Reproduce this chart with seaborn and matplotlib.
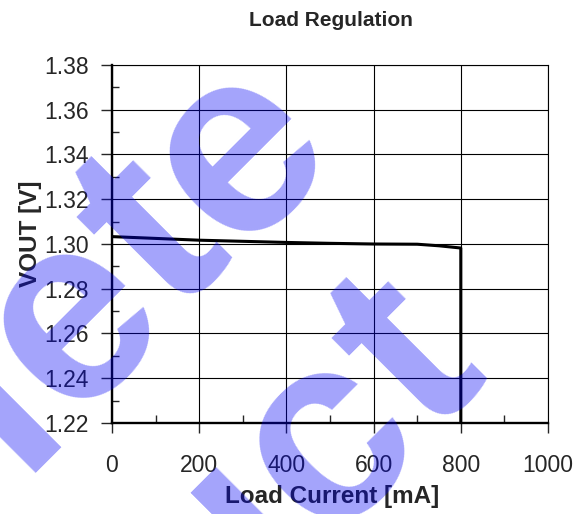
import numpy as np
import matplotlib
matplotlib.use("Agg")
import matplotlib.pyplot as plt
from matplotlib.ticker import MultipleLocator
import seaborn as sns

# data
load_ma = [0, 100, 200, 300, 400, 500, 600, 700, 750, 800, 800]
vout_v = [1.3033, 1.3025, 1.3017, 1.3012, 1.3007, 1.3003, 1.3000, 1.2999, 1.2992, 1.2982, 1.2000]

x_ticks = [0, 200, 400, 600, 800, 1000]
y_ticks = [1.22, 1.24, 1.26, 1.28, 1.30, 1.32, 1.34, 1.36, 1.38]

sns.set_style("white")
plt.rcParams['font.family'] = ['Liberation Sans', 'DejaVu Sans']

W, H = 583, 514
fig = plt.figure(figsize=(W / 100, H / 100), dpi=100)
ax = fig.add_axes([112 / W, (H - 423) / H, 436 / W, 358 / H])

sns.lineplot(x=load_ma, y=vout_v, estimator=None, sort=False,
             color='black', lw=2.2, ax=ax, zorder=5)

ax.set_xlim(0, 1000)
ax.set_ylim(1.22, 1.38)
ax.set_xticks(x_ticks)
ax.set_yticks(y_ticks)
ax.set_yticklabels([f"{v:.2f}" for v in y_ticks])
ax.xaxis.set_minor_locator(MultipleLocator(100))
ax.yaxis.set_minor_locator(MultipleLocator(0.01))
ax.grid(True, which='major', color='black', lw=0.8)
ax.set_axisbelow(True)

for side in ['left', 'bottom']:
    ax.spines[side].set_linewidth(1.7)
    ax.spines[side].set_color('black')
for side in ['top', 'right']:
    ax.spines[side].set_linewidth(0.8)
    ax.spines[side].set_color('black')

ax.tick_params(axis='y', which='major', direction='out', length=8, width=1,
               pad=9, labelsize=16.5, left=True)
ax.tick_params(axis='y', which='minor', direction='in', length=5, width=1, left=True)
ax.tick_params(axis='x', which='major', direction='out', length=7, width=1,
               pad=15, labelsize=16.5, bottom=True)
ax.tick_params(axis='x', which='minor', direction='in', length=6, width=1, bottom=True)
ax.set_xlabel("")
ax.set_ylabel("")

# titles and axis labels
fig.text(331 / W, 1 - 26 / H, "Load Regulation", ha='center', va='baseline',
         fontsize=15, fontweight='bold')
fig.text(332 / W, 1 - 503 / H, "Load Current [mA]", ha='center', va='baseline',
         fontsize=17.5, fontweight='bold')
fig.text(37 / W, 1 - 234 / H, "VOUT [V]", ha='center', va='baseline',
         rotation=90, rotation_mode='anchor', fontsize=17.5, fontweight='bold')

# watermark, letter by letter along a 45 degree line
adv = {'O': .778, 'b': .611, 's': .556, 'o': .611, 'l': .278, 'e': .556, 't': .333,
       'P': .667, 'r': .389, 'd': .611, 'u': .611, 'c': .556}
EM = 265

def watermark(word, anchor_idx, anchor_p, base_sum):
    w = [adv[c] * EM for c in word]
    centers = []
    pos = 0
    for i, c in enumerate(word):
        centers.append(pos + w[i] / 2)
        pos += w[i]
    shift = anchor_p - centers[anchor_idx]
    for c, p in zip(word, centers):
        p = p + shift
        x = (base_sum + p * np.sqrt(2)) / 2
        y = (base_sum - p * np.sqrt(2)) / 2
        fig.text(x / W, 1 - y / H, c, rotation=45, rotation_mode='anchor',
                 ha='center', va='baseline', fontsize=EM * 0.72,
                 fontweight='bold', color=(0, 0, 0.96), alpha=0.36, zorder=10)

watermark("Obsolete", 5, -175, 490)
watermark("Product", 5, -80, 866)

fig.savefig("out.png", dpi=100)
